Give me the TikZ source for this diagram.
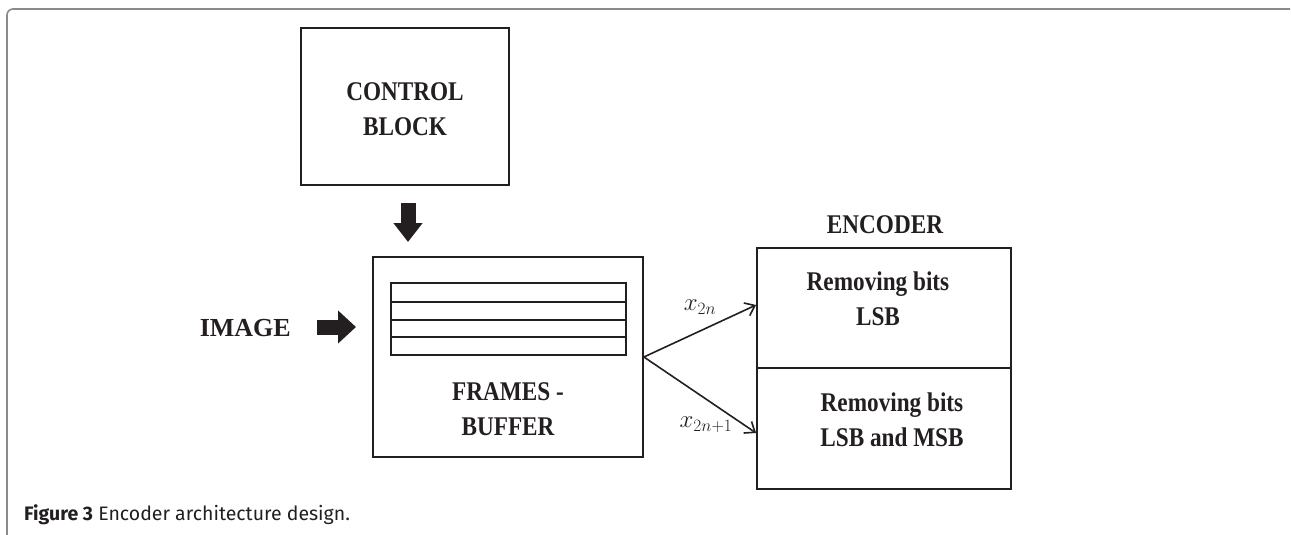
\documentclass[tikz,border=0pt]{standalone}
\usepackage{fontspec}
\setmainfont[FakeStretch=0.86]{Liberation Serif}
\newfontfamily\widefont{Liberation Serif}
\newfontfamily\capfont{Fira Sans}
\usetikzlibrary{arrows.meta,calc}
\definecolor{ink}{HTML}{231F20}
\definecolor{framegray}{HTML}{8A8A8A}
\begin{document}
\begin{tikzpicture}[x=1pt,y=-1pt,
  box/.style={draw=ink,line width=1.8pt,inner sep=0pt},
  lbl/.style={font=\fontsize{27}{35}\selectfont\bfseries,text=ink,align=center,inner sep=0pt},
  flow/.style={draw=ink,line width=1.6pt,-{Straight Barb[length=9pt,width=14pt,line width=1.6pt]}},
  mathlbl/.style={font=\fontsize{23}{26}\selectfont,text=ink,inner sep=0pt}
]
\useasboundingbox (0,0) rectangle (1291,535);
% outer frame
\draw[framegray,line width=1.6pt,rounded corners=6pt] (7,536) -- (7,9) -- (1290,9);

% control block
\node[box,minimum width=208pt,minimum height=157pt] (ctrl) at (405,106.5) {};
\node[lbl] (ctrltxt) at (405,109) {CONTROL\\BLOCK};

% frames buffer
\node[box,minimum width=270pt,minimum height=200pt] (buf) at (508,357) {};
\node[draw=ink,line width=1.6pt,minimum width=235pt,minimum height=72pt,inner sep=0pt] (rows) at (508.5,319) {};
\foreach \yy in {302,320,337}
  \draw[ink,line width=1.6pt] (rows.west |- 0,\yy) -- (rows.east |- 0,\yy);
\node[lbl] (buftxt) at (508,409) {FRAMES -\\BUFFER};

% block arrow from control into buffer
\coordinate (dTop) at (408,203);
\coordinate (dEnd) at (408,242);
\draw[ink,line width=15pt,-{Triangle[length=19pt,width=28pt]}] (dTop) -- (dEnd);

% image input
\node[lbl,anchor=east,font=\widefont\fontsize{26}{30}\selectfont\bfseries] (img) at (291,328) {IMAGE};
\coordinate (rStart) at (317,327);
\coordinate (rEnd) at (356,327);
\draw[ink,line width=15pt,-{Triangle[length=18pt,width=32pt]}] (rStart) -- (rEnd);

% encoder
\node[lbl] (enctitle) at (885,225) {ENCODER};
\node[box,minimum width=254pt,minimum height=120pt] (enc1) at (884,308) {};
\node[box,minimum width=254pt,minimum height=121pt] (enc2) at (884,428.5) {};
\node[lbl] (enc1txt) at (878,299) {Removing bits\\LSB};
\node[lbl] (enc2txt) at (892,420) {Removing bits\\LSB and MSB};

% split connectors
\draw[flow] (buf.east) -- ($(enc1.west)+(0,-3)$);
\draw[flow] (buf.east) -- ($(enc2.west)+(0,4.5)$);
\node[mathlbl] (xa) at (700,307) {$x_{2n}$};
\node[mathlbl] (xb) at (706,425) {$x_{2n+1}$};

% caption
\node[anchor=base west,inner sep=0pt,font=\capfont\fontsize{19.5}{22}\selectfont,text=ink] (cap) at (24,520)
  {\textbf{Figure 3} Encoder architecture design.};
\end{tikzpicture}
\end{document}
